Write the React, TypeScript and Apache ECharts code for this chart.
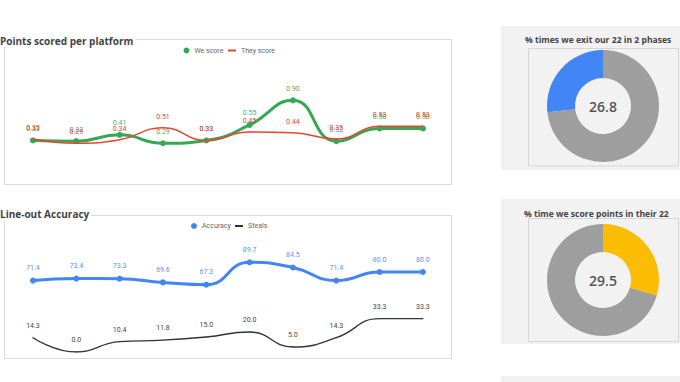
import React, { useEffect, useRef } from "react";
import * as echarts from "echarts";

const platforms = ["P1", "P2", "P3", "P4", "P5", "P6", "P7", "P8", "P9", "P10"];
const weScore = [0.33, 0.32, 0.41, 0.29, 0.33, 0.55, 0.9, 0.32, 0.5, 0.5];
const theyScore = [0.35, 0.29, 0.34, 0.51, 0.33, 0.45, 0.44, 0.35, 0.53, 0.53];
const accuracy = [71.4, 73.4, 73.3, 69.6, 67.3, 89.7, 84.5, 71.4, 80.0, 80.0];
const steals = [14.3, 0.0, 10.4, 11.8, 15.0, 20.0, 5.0, 14.3, 33.3, 33.3];
const exitPct = 26.8;
const scorePct = 29.5;

const TITLE_FONT = "700 10px 'Open Sans', sans-serif";
const SMALL_TITLE_FONT = "700 8.6px 'Open Sans', sans-serif";

export default function App() {
  const ref = useRef<HTMLDivElement>(null);
  useEffect(() => {
    document.body.style.margin = "0";
    const chart = echarts.init(ref.current!, undefined, { renderer: "svg" });
    const labelBase = { show: true, position: "top", fontSize: 7, fontFamily: "Roboto" };
    const legendBase = {
      textStyle: { fontSize: 7, color: "#666", fontFamily: "Roboto" },
      itemGap: 4,
      padding: 0,
    };
    chart.setOption({
      animation: false,
      grid: [
        { left: 11.3, width: 433.3, top: 58, height: 105.7 },
        { left: 11.3, width: 433.3, top: 252, height: 100 },
      ],
      xAxis: [
        { type: "category", data: platforms, gridIndex: 0, show: false },
        { type: "category", data: platforms, gridIndex: 1, show: false },
      ],
      yAxis: [
        { type: "value", min: 0, max: 1.5, gridIndex: 0, show: false },
        { type: "value", min: 0, max: 100, gridIndex: 1, show: false },
      ],
      legend: [
        { ...legendBase, data: [{ name: "We score", icon: "circle" }], itemWidth: 6, itemHeight: 6, left: 183.5, top: 47 },
        { ...legendBase, data: [{ name: "They score", icon: "rect" }], itemWidth: 8, itemHeight: 2, left: 228, top: 47 },
        { ...legendBase, data: [{ name: "Accuracy", icon: "circle" }], itemWidth: 6, itemHeight: 6, left: 191, top: 222.5 },
        { ...legendBase, data: [{ name: "Steals", icon: "rect" }], itemWidth: 8, itemHeight: 2, left: 235, top: 222.5 },
      ],
      series: [
        {
          name: "They score",
          type: "line",
          xAxisIndex: 0,
          yAxisIndex: 0,
          data: theyScore,
          smooth: true,
          symbol: "circle",
          symbolSize: 1,
          z: 3,
          itemStyle: { color: "#ea4335" },
          lineStyle: { color: "#ea4335", width: 1.5 },
          label: { ...labelBase, color: "#ea4335", distance: 7, formatter: (p: any) => p.value.toFixed(2) },
        },
        {
          name: "We score",
          type: "line",
          xAxisIndex: 0,
          yAxisIndex: 0,
          data: weScore,
          smooth: true,
          symbol: "circle",
          symbolSize: 6,
          z: 2,
          itemStyle: { color: "#34a853" },
          lineStyle: { color: "#34a853", width: 3 },
          label: { ...labelBase, color: "#4cae66", distance: 5, formatter: (p: any) => p.value.toFixed(2) },
        },
        {
          name: "Accuracy",
          type: "line",
          xAxisIndex: 1,
          yAxisIndex: 1,
          data: accuracy,
          smooth: true,
          symbol: "circle",
          symbolSize: 6,
          itemStyle: { color: "#4285f4" },
          lineStyle: { color: "#4285f4", width: 3 },
          label: { ...labelBase, color: "#5b93f0", distance: 6, formatter: (p: any) => p.value.toFixed(1) },
        },
        {
          name: "Steals",
          type: "line",
          xAxisIndex: 1,
          yAxisIndex: 1,
          data: steals,
          smooth: true,
          symbol: "circle",
          symbolSize: 1,
          itemStyle: { color: "#333" },
          lineStyle: { color: "#333", width: 1.3 },
          label: { ...labelBase, color: "#444", distance: 8, formatter: (p: any) => p.value.toFixed(1) },
        },
        {
          type: "pie",
          center: [603, 106],
          radius: [28, 56],
          startAngle: 90,
          clockwise: true,
          silent: true,
          label: { show: false },
          labelLine: { show: false },
          data: [
            { name: "other", value: 100 - exitPct, itemStyle: { color: "#9e9e9e" } },
            { name: "exit", value: exitPct, itemStyle: { color: "#4285f4" } },
          ],
        },
        {
          type: "pie",
          center: [603, 280],
          radius: [28, 56],
          startAngle: 90,
          clockwise: true,
          silent: true,
          label: { show: false },
          labelLine: { show: false },
          data: [
            { name: "score", value: scorePct, itemStyle: { color: "#fbbc04" } },
            { name: "other", value: 100 - scorePct, itemStyle: { color: "#9e9e9e" } },
          ],
        },
      ],
      graphic: [
        { type: "rect", z: -10, shape: { x: 4.5, y: 39.5, width: 447, height: 145 }, style: { fill: "#fff", stroke: "#d9d9d9", lineWidth: 1 } },
        { type: "rect", z: -10, shape: { x: 4.5, y: 215.5, width: 447, height: 143 }, style: { fill: "#fff", stroke: "#d9d9d9", lineWidth: 1 } },
        { type: "rect", z: -10, shape: { x: 501, y: 26, width: 179, height: 144 }, style: { fill: "#f2f2f2" } },
        { type: "rect", z: -10, shape: { x: 501, y: 199, width: 179, height: 145 }, style: { fill: "#f2f2f2" } },
        { type: "rect", z: -10, shape: { x: 501, y: 376, width: 179, height: 10 }, style: { fill: "#f2f2f2" } },
        { type: "rect", z: -9, shape: { x: 528.5, y: 48.5, width: 150, height: 117.5 }, style: { fill: "none", stroke: "#d6d6d6", lineWidth: 1 } },
        { type: "rect", z: -9, shape: { x: 528.5, y: 218.5, width: 150, height: 123 }, style: { fill: "none", stroke: "#d6d6d6", lineWidth: 1 } },
        {
          type: "text", z: 10, x: 0, y: 41,
          style: { text: "Points scored per platform", font: TITLE_FONT, fill: "#444", verticalAlign: "middle", backgroundColor: "#fff", padding: [1, 2, 1, 0] },
        },
        {
          type: "text", z: 10, x: 0, y: 214,
          style: { text: "Line-out Accuracy", font: TITLE_FONT, fill: "#444", verticalAlign: "middle", backgroundColor: "#fff", padding: [1, 2, 1, 0] },
        },
        {
          type: "text", z: 10, x: 525, y: 40,
          style: { text: "% times we exit our 22 in 2 phases", font: SMALL_TITLE_FONT, fill: "#444", verticalAlign: "middle" },
        },
        {
          type: "text", z: 10, x: 524, y: 214,
          style: { text: "% time we score points in their 22", font: SMALL_TITLE_FONT, fill: "#444", verticalAlign: "middle" },
        },
        {
          type: "text", z: 10, x: 603, y: 106,
          style: { text: exitPct.toFixed(1), font: "600 14px 'Open Sans', sans-serif", fill: "#555", align: "center", verticalAlign: "middle" },
        },
        {
          type: "text", z: 10, x: 603, y: 280,
          style: { text: scorePct.toFixed(1), font: "600 14px 'Open Sans', sans-serif", fill: "#555", align: "center", verticalAlign: "middle" },
        },
      ],
    });
    return () => chart.dispose();
  }, []);
  return <div ref={ref} style={{ position: "fixed", left: 0, top: 0, width: 680, height: 382, background: "#fff" }} />;
}
